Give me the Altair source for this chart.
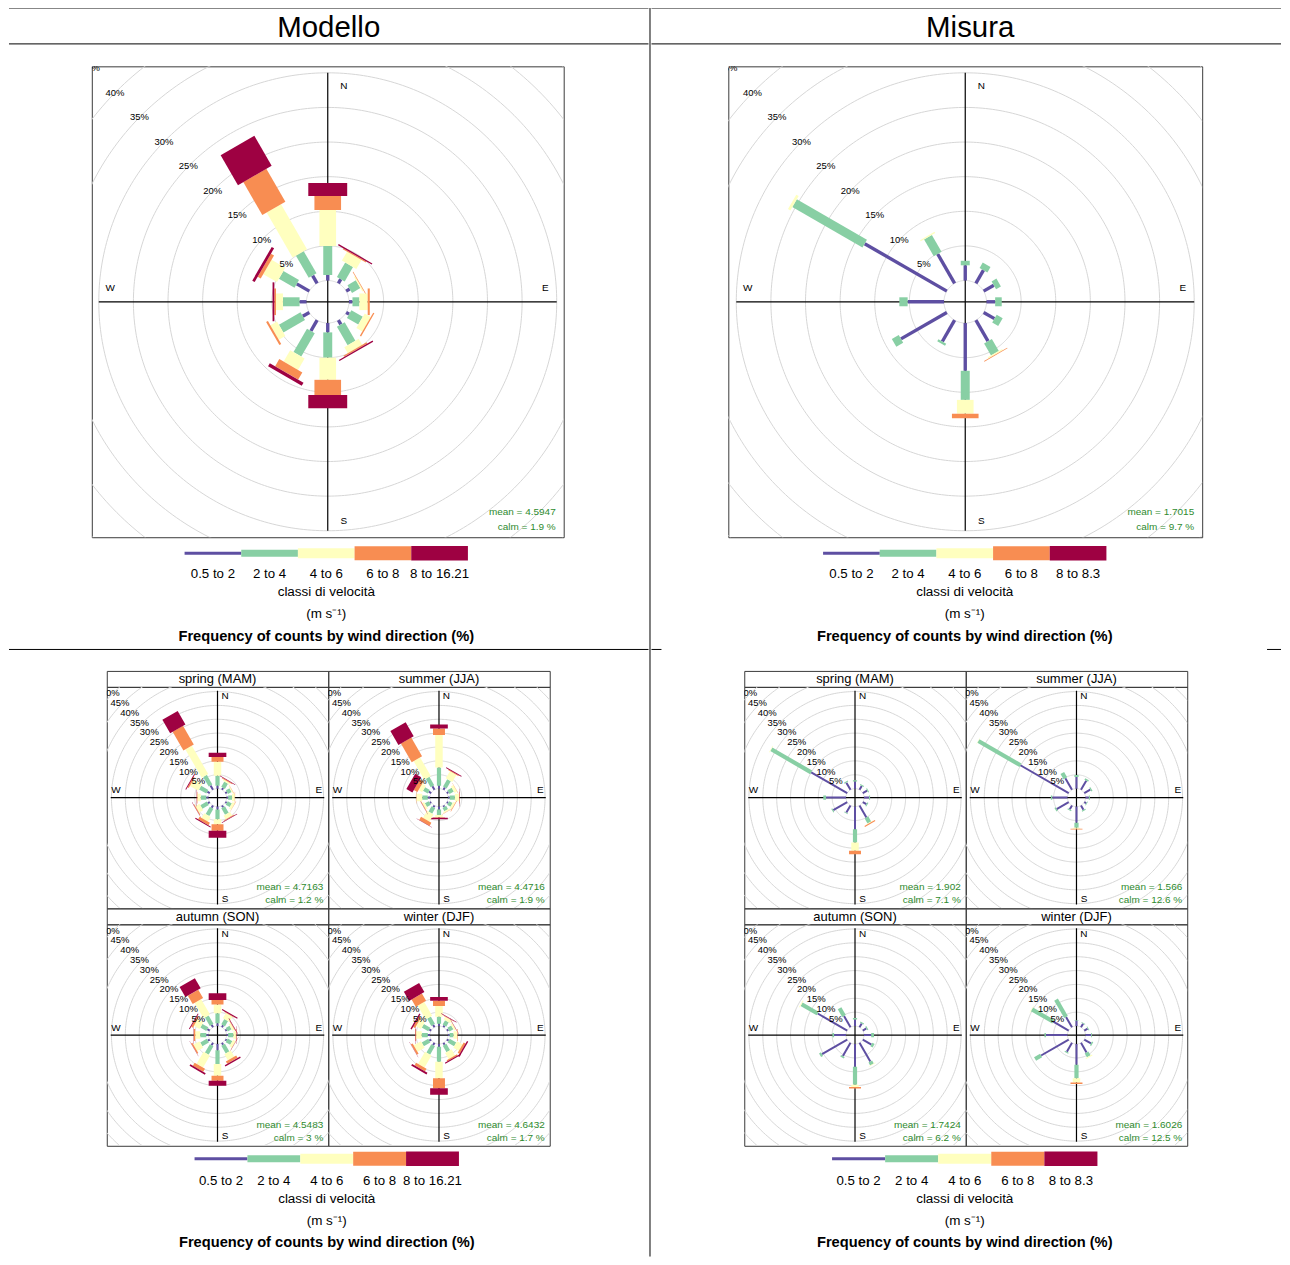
import altair as alt
import numpy as np
import pandas as pd

FONT = "Liberation Sans"
DIRS = [0, 30, 60, 90, 120, 150, 180, 210, 240, 270, 300, 330]
CLASS_COLORS = ["#5E4FA2", "#88CFA4", "#FFFFBF", "#F88D52", "#9E0142"]
MODEL_CLASSES = ["0.5 to 2", "2 to 4", "4 to 6", "6 to 8", "8 to 16.21"]
MEASURE_CLASSES = ["0.5 to 2", "2 to 4", "4 to 6", "6 to 8", "8 to 8.3"]
SEASONS = ["spring (MAM)", "summer (JJA)", "autumn (SON)", "winter (DJF)"]
BIG_RINGS = [0, 5, 10, 15, 20, 25, 30, 35, 40, 45]
SMALL_RINGS = [0, 5, 10, 15, 20, 25, 30, 35, 40, 45, 50]

# cumulative frequency (%) reached at the outer end of each speed class,
# one row per direction in DIRS (classes as in *_CLASSES)
model_all = [
    [0.8, 5.0, 10.2, 12.2, 14.1],
    [0.7, 3.1, 4.6, 4.75, 4.95],
    [0.6, 2.0, 2.2, 2.3, 2.3],
    [0.5, 1.5, 2.7, 3.0, 3.0],
    [0.5, 2.4, 3.4, 3.6, 3.6],
    [0.7, 3.8, 4.8, 5.0, 5.2],
    [1.35, 5.0, 8.2, 10.4, 12.3],
    [1.8, 5.7, 7.6, 8.8, 9.3],
    [1.1, 4.7, 5.8, 6.1, 6.1],
    [1.0, 3.4, 4.4, 4.65, 4.9],
    [2.1, 4.7, 7.0, 7.5, 7.9],
    [1.3, 5.0, 12.5, 18.0, 23.0],
]
measure_all = [
    [2.2, 2.85, 2.85, 2.85, 2.85],
    [2.2, 3.1, 3.1, 3.1, 3.1],
    [1.7, 2.5, 2.5, 2.5, 2.5],
    [1.25, 2.2, 2.2, 2.2, 2.2],
    [1.8, 2.8, 2.8, 2.8, 2.8],
    [3.5, 5.5, 5.7, 5.8, 5.8],
    [6.9, 11.1, 13.1, 13.75, 13.75],
    [3.55, 3.9, 3.9, 3.9, 3.9],
    [7.65, 8.8, 8.8, 8.8, 8.8],
    [5.25, 6.45, 6.45, 6.45, 6.45],
    [13.7, 25.4, 25.8, 25.8, 25.8],
    [4.9, 7.7, 7.9, 7.9, 7.9],
]
model_spring = [
    [1.0, 4.6, 9.7, 11.4, 12.9],
    [0.8, 3.0, 3.6, 3.9, 4.1],
    [0.7, 2.2, 2.6, 2.7, 2.7],
    [0.6, 2.0, 3.0, 3.1, 3.1],
    [0.6, 2.3, 3.2, 3.3, 3.3],
    [0.8, 3.5, 5.0, 5.3, 5.5],
    [1.0, 4.6, 6.4, 8.7, 11.2],
    [1.0, 4.0, 6.0, 7.0, 7.4],
    [0.8, 3.5, 5.2, 5.5, 5.6],
    [0.8, 2.8, 4.0, 4.2, 4.3],
    [1.0, 4.0, 7.5, 8.0, 8.3],
    [1.8, 5.8, 17.6, 25.4, 31.0],
]
model_summer = [
    [1.0, 7.6, 19.3, 21.7, 23.1],
    [1.0, 4.0, 7.0, 7.3, 7.6],
    [0.7, 2.5, 3.5, 3.6, 3.6],
    [0.6, 2.5, 4.0, 4.2, 4.3],
    [0.6, 2.0, 2.8, 3.0, 3.0],
    [0.6, 2.0, 2.5, 2.6, 2.6],
    [1.0, 3.0, 3.8, 4.0, 4.6],
    [0.8, 3.0, 6.0, 7.3, 7.4],
    [0.6, 2.2, 3.0, 3.2, 3.3],
    [0.8, 2.8, 4.9, 5.0, 5.0],
    [1.0, 3.0, 4.5, 6.0, 8.5],
    [1.5, 5.0, 12.7, 20.5, 26.3],
]
model_autumn = [
    [1.0, 4.6, 7.8, 9.4, 11.8],
    [0.8, 3.0, 5.2, 5.4, 5.8],
    [0.6, 2.2, 3.0, 3.2, 3.4],
    [0.6, 2.5, 3.4, 3.6, 3.7],
    [0.6, 2.5, 3.5, 3.6, 3.7],
    [0.8, 4.0, 6.5, 7.5, 8.0],
    [2.2, 7.2, 11.4, 13.2, 15.0],
    [1.0, 4.5, 9.5, 10.8, 11.4],
    [0.8, 3.5, 6.0, 6.5, 6.6],
    [0.8, 3.0, 4.8, 5.3, 5.4],
    [1.0, 3.5, 5.8, 6.5, 6.8],
    [1.0, 4.5, 10.9, 14.4, 18.6],
]
model_winter = [
    [0.8, 3.4, 7.2, 9.1, 10.5],
    [0.7, 2.5, 3.6, 3.8, 4.0],
    [0.7, 2.3, 3.0, 3.1, 3.2],
    [0.6, 2.0, 3.3, 3.5, 3.5],
    [0.8, 3.5, 5.8, 6.6, 7.1],
    [0.8, 3.5, 6.0, 6.5, 6.9],
    [1.0, 6.4, 12.3, 15.9, 18.3],
    [1.0, 4.5, 9.5, 10.6, 11.3],
    [0.8, 3.5, 6.5, 7.2, 7.3],
    [0.8, 3.0, 5.0, 5.3, 5.4],
    [0.8, 3.5, 5.5, 6.3, 6.8],
    [1.0, 4.0, 9.8, 12.8, 16.6],
]
measure_spring = [
    [2.6, 3.0, 3.0, 3.0, 3.0],
    [1.6, 2.0, 2.0, 2.0, 2.0],
    [1.8, 2.2, 2.2, 2.2, 2.2],
    [1.8, 2.2, 2.2, 2.2, 2.2],
    [1.5, 1.9, 1.9, 1.9, 1.9],
    [5.0, 7.1, 7.3, 7.7, 7.7],
    [8.2, 12.9, 15.9, 17.2, 17.2],
    [3.0, 3.3, 3.3, 3.3, 3.3],
    [5.8, 6.2, 6.2, 6.2, 6.2],
    [7.2, 8.2, 8.2, 8.2, 8.2],
    [15.0, 31.6, 31.8, 31.8, 31.8],
    [3.0, 3.4, 3.4, 3.4, 3.4],
]
measure_summer = [
    [4.2, 4.9, 4.9, 4.9, 4.9],
    [3.8, 4.4, 4.4, 4.4, 4.4],
    [2.5, 3.0, 3.0, 3.0, 3.0],
    [1.2, 1.6, 1.6, 1.6, 1.6],
    [0.8, 1.1, 1.1, 1.1, 1.1],
    [1.8, 2.2, 2.2, 2.2, 2.2],
    [5.8, 7.6, 8.0, 8.3, 8.3],
    [1.6, 2.0, 2.0, 2.0, 2.0],
    [5.0, 5.5, 5.5, 5.5, 5.5],
    [5.5, 6.0, 6.0, 6.0, 6.0],
    [20.1, 37.6, 37.7, 37.7, 37.7],
    [4.8, 7.0, 7.0, 7.0, 7.0],
]
measure_autumn = [
    [2.4, 2.9, 2.9, 2.9, 2.9],
    [1.6, 2.0, 2.0, 2.0, 2.0],
    [1.5, 1.9, 1.9, 1.9, 1.9],
    [2.6, 3.6, 3.6, 3.6, 3.6],
    [3.6, 4.5, 4.5, 4.5, 4.5],
    [7.8, 9.0, 9.2, 9.2, 9.2],
    [8.2, 14.7, 15.5, 16.0, 16.0],
    [5.5, 6.1, 6.1, 6.1, 6.1],
    [10.5, 11.3, 11.3, 11.3, 11.3],
    [4.3, 4.9, 4.9, 4.9, 4.9],
    [12.3, 19.0, 19.3, 19.3, 19.3],
    [4.7, 7.9, 7.9, 7.9, 7.9],
]
measure_winter = [
    [2.0, 2.2, 2.2, 2.2, 2.2],
    [1.5, 1.8, 1.8, 1.8, 1.8],
    [1.4, 1.7, 1.7, 1.7, 1.7],
    [2.0, 2.3, 2.3, 2.3, 2.3],
    [2.8, 3.3, 3.3, 3.3, 3.3],
    [4.0, 5.6, 6.0, 6.0, 6.0],
    [7.5, 12.3, 13.9, 14.4, 14.4],
    [3.7, 4.1, 4.1, 4.1, 4.1],
    [11.5, 14.0, 14.0, 14.0, 14.0],
    [7.8, 8.3, 8.3, 8.3, 8.3],
    [6.4, 15.3, 15.5, 15.5, 15.5],
    [4.3, 11.5, 11.5, 11.5, 11.5],
]

model_mean = ["4.5947", "4.7163", "4.4716", "4.5483", "4.6432"]
model_calm = ["1.9", "1.2", "1.9", "3", "1.7"]
measure_mean = ["1.7015", "1.902", "1.566", "1.7424", "1.6026"]
measure_calm = ["9.7", "7.1", "12.6", "6.2", "12.5"]

# drawing geometry of the two rose sizes
BIG = dict(H=472, k=6.94, hole=3.07, axis=33.07, rings=BIG_RINGS,
           widths=[3.4, 9.0, 16.7, 26.7, 39.0], fs_ring=9.5, fs_dir=10, fs_stat=10,
           stat=(8, 25, 10), lab_off=(-2, 2), dir_dy=2)
SMALL = dict(H=222, k=2.78, hole=3.24, axis=38.5, rings=SMALL_RINGS,
             widths=[2.0, 4.2, 7.5, 12.0, 17.7], fs_ring=9.5, fs_dir=10, fs_stat=10,
             stat=(5, 21, 8), lab_off=(-3, 0), dir_dy=0)
LEGEND_THICK = [3, 7, 10, 14, 14.5]
FRAME = "#3a3a3a"
STAT_COLOR = "#2e8b2e"
ONE = pd.DataFrame({"v": [0]})
CLS_COLOR = alt.Color("cls:O", scale=alt.Scale(domain=[0, 1, 2, 3, 4], range=CLASS_COLORS), legend=None)


def paddle_frame(cum, hole, widths):
    rows = []
    for d, vals in zip(DIRS, cum):
        th = np.radians(d)
        prev = 0.0
        for i, v in enumerate(vals):
            if v > prev + 1e-9:
                r1, r2 = hole + prev, hole + v
                rows.append(dict(cls=i, w=widths[i], x=r1 * np.sin(th), y=r1 * np.cos(th),
                                 x2=r2 * np.sin(th), y2=r2 * np.cos(th)))
            prev = max(prev, v)
    return pd.DataFrame(rows)


def rose(cum, mean, calm, g, W):
    H, k, hole, L = g["H"], g["k"], g["hole"], g["axis"]
    bx, by = W / 2 / k, H / 2 / k
    xs = alt.Scale(domain=[-bx, bx], nice=False, zero=False)
    ys = alt.Scale(domain=[-by, by], nice=False, zero=False)
    X = alt.X("x:Q", scale=xs, axis=None)
    Y = alt.Y("y:Q", scale=ys, axis=None)

    ang = np.linspace(0, 2 * np.pi, 361)
    ring_rows = []
    for p in g["rings"]:
        R = hole + p
        for j, a in enumerate(ang):
            ring_rows.append(dict(ring=p, o=j, x=R * np.sin(a), y=R * np.cos(a)))
    rings = alt.Chart(pd.DataFrame(ring_rows)).mark_line(
        clip=True, color="#d6d6d6", strokeWidth=1
    ).encode(x=X, y=Y, detail="ring:N", order="o:Q")

    axes_df = pd.DataFrame({"x": [-L, 0], "y": [0, -L], "x2": [L, 0], "y2": [0, L]})
    axes = alt.Chart(axes_df).mark_rule(color="black", strokeWidth=1.2, clip=True).encode(
        x=X, y=Y, x2="x2:Q", y2="y2:Q"
    )

    paddles = alt.Chart(paddle_frame(cum, hole, g["widths"])).mark_rule(strokeCap="butt", clip=True).encode(
        x=X, y=Y, x2="x2:Q", y2="y2:Q", color=CLS_COLOR,
        strokeWidth=alt.StrokeWidth("w:Q", scale=None),
    )

    s45 = np.sin(np.radians(45))
    lab = pd.DataFrame({"p": g["rings"][1:]})
    lab["x"] = -(hole + lab["p"]) * s45
    lab["y"] = (hole + lab["p"]) * s45
    lab["t"] = lab["p"].astype(str) + "%"
    ldx, ldy = g["lab_off"]
    ring_labels = alt.Chart(lab).mark_text(
        clip=True, font=FONT, fontSize=g["fs_ring"], color="black", dx=ldx, dy=ldy
    ).encode(x=X, y=Y, text="t:N")

    comp = pd.DataFrame({
        "t": ["N", "E", "S", "W"],
        "x": [0.07 * L, 0.95 * L, 0.07 * L, -0.95 * L],
        "y": [0.95 * L, 0.07 * L, -0.95 * L, 0.07 * L],
    })
    compass = alt.Chart(comp).mark_text(
        clip=True, font=FONT, fontSize=g["fs_dir"], color="black", dy=g["dir_dy"]
    ).encode(x=X, y=Y, text="t:N")

    dx, dy1, dy2 = g["stat"]
    st1 = alt.Chart(ONE).mark_text(align="right", font=FONT, fontSize=g["fs_stat"], color=STAT_COLOR).encode(
        x=alt.value(W - dx), y=alt.value(H - dy1), text=alt.value(f"mean = {mean}")
    )
    st2 = alt.Chart(ONE).mark_text(align="right", font=FONT, fontSize=g["fs_stat"], color=STAT_COLOR).encode(
        x=alt.value(W - dx), y=alt.value(H - dy2), text=alt.value(f"calm = {calm} %")
    )
    return alt.layer(rings, axes, paddles, ring_labels, compass, st1, st2).properties(
        width=W, height=H, view=alt.ViewBackground(stroke=FRAME, strokeWidth=1)
    )


def strip(label, W=222, H=16):
    return alt.Chart(ONE).mark_text(font=FONT, fontSize=13).encode(
        x=alt.value(W / 2), y=alt.value(H / 2 + 0.5), text=alt.value(label)
    ).properties(width=W, height=H, view=alt.ViewBackground(stroke=FRAME, strokeWidth=1))


def spacer(w, h):
    return alt.Chart(ONE).mark_point(opacity=0, size=1).encode(
        x=alt.value(0), y=alt.value(0)
    ).properties(width=w, height=h)


def hline(w, segments=None):
    segs = segments or [(0, w)]
    df = pd.DataFrame({"a": [s[0] for s in segs], "b": [s[1] for s in segs]})
    xs = alt.Scale(domain=[0, w], nice=False, zero=False)
    return alt.Chart(df).mark_rule(color="black", strokeWidth=1).encode(
        x=alt.X("a:Q", scale=xs, axis=None), x2="b:Q", y=alt.value(0.5)
    ).properties(width=w, height=1)


def vline(h):
    return alt.Chart(ONE).mark_rule(color="black", strokeWidth=1).encode(
        x=alt.value(0.5), y=alt.value(0), y2=alt.value(h)
    ).properties(width=1, height=h)


def header(text, w, cx):
    return alt.Chart(ONE).mark_text(font=FONT, fontSize=29.5).encode(
        x=alt.value(cx), y=alt.value(20), text=alt.value(text)
    ).properties(width=w, height=35)


def legend(labels, w, h, cx, bar_w, ys):
    unit = bar_w / 5
    lo = -(cx - bar_w / 2) / unit
    hi = lo + w / unit
    xs = alt.Scale(domain=[lo, hi], nice=False, zero=False)
    df = pd.DataFrame({
        "cls": [0, 1, 2, 3, 4],
        "x0": [0, 1, 2, 3, 4],
        "x1": [1, 2, 3, 4, 5],
        "xm": [0.5, 1.5, 2.5, 3.5, 4.5],
        "lab": labels,
        "w": LEGEND_THICK,
    })
    bars = alt.Chart(df).mark_rule(strokeCap="butt").encode(
        x=alt.X("x0:Q", scale=xs, axis=None), x2="x1:Q", y=alt.value(ys[0]),
        color=CLS_COLOR, strokeWidth=alt.StrokeWidth("w:Q", scale=None),
    )
    labs = alt.Chart(df).mark_text(font=FONT, fontSize=13.3).encode(
        x=alt.X("xm:Q", scale=xs, axis=None), y=alt.value(ys[1]), text="lab:N"
    )
    t1 = alt.Chart(ONE).mark_text(font=FONT, fontSize=13.5).encode(
        x=alt.value(cx), y=alt.value(ys[2]), text=alt.value("classi di velocità"))
    t2 = alt.Chart(ONE).mark_text(font=FONT, fontSize=13.5).encode(
        x=alt.value(cx), y=alt.value(ys[3]), text=alt.value("(m s⁻¹)"))
    t3 = alt.Chart(ONE).mark_text(font=FONT, fontSize=14.7, fontWeight="bold").encode(
        x=alt.value(cx), y=alt.value(ys[4]), text=alt.value("Frequency of counts by wind direction (%)"))
    return alt.layer(bars, labs, t1, t2, t3).properties(width=w, height=h)


def season_grid(data4, means, calms):
    r = [rose(d, m, c, SMALL, 222) for d, m, c in zip(data4, means, calms)]
    s = [strip(t) for t in SEASONS]
    return alt.concat(s[0], s[1], r[0], r[1], s[2], s[3], r[2], r[3],
                      columns=2, spacing=0, bounds="flush")


LEFT_W, RIGHT_W = 641, 631
TOTAL_H = 1252
TOP_YS = (15, 36, 54, 76, 99)
BOT_YS = (12, 34, 52, 74, 96)

top_left = alt.vconcat(
    spacer(LEFT_W, 20),
    alt.hconcat(spacer(83, 1), rose(model_all, model_mean[0], model_calm[0], BIG, 473), spacing=0, bounds="flush"),
    legend(MODEL_CLASSES, LEFT_W, 111, 318, 284, TOP_YS),
    spacing=0,
)
bottom_left = alt.vconcat(
    spacer(LEFT_W, 19),
    alt.hconcat(spacer(97, 1),
                season_grid([model_spring, model_summer, model_autumn, model_winter], model_mean[1:], model_calm[1:]),
                spacing=0),
    legend(MODEL_CLASSES, LEFT_W, 113, 318.5, 265, BOT_YS),
    spacing=0,
)
top_right = alt.vconcat(
    spacer(RIGHT_W, 20),
    alt.hconcat(spacer(77, 1), rose(measure_all, measure_mean[0], measure_calm[0], BIG, 475), spacing=0, bounds="flush"),
    legend(MEASURE_CLASSES, RIGHT_W, 111, 314, 284, TOP_YS),
    spacing=0,
)
bottom_right = alt.vconcat(
    spacer(RIGHT_W, 19),
    alt.hconcat(spacer(92, 1),
                season_grid([measure_spring, measure_summer, measure_autumn, measure_winter], measure_mean[1:], measure_calm[1:]),
                spacing=0),
    legend(MEASURE_CLASSES, RIGHT_W, 113, 314, 266, BOT_YS),
    spacing=0,
)

left_col = alt.vconcat(hline(LEFT_W), header("Modello", LEFT_W, 320.5), hline(LEFT_W),
                       top_left, hline(LEFT_W), bottom_left, spacing=0)
right_col = alt.vconcat(hline(RIGHT_W), header("Misura", RIGHT_W, 319.5), hline(RIGHT_W),
                        top_right, hline(RIGHT_W, [(0, 10), (617, RIGHT_W)]), bottom_right, spacing=0)

chart = alt.hconcat(vline(TOTAL_H), left_col, vline(TOTAL_H), right_col, spacing=0).properties(
    padding={"left": -1, "top": -3, "right": 0, "bottom": 0}
).configure_view(stroke=None)

chart.save("out.html", embed_options={"renderer": "svg", "actions": False})
